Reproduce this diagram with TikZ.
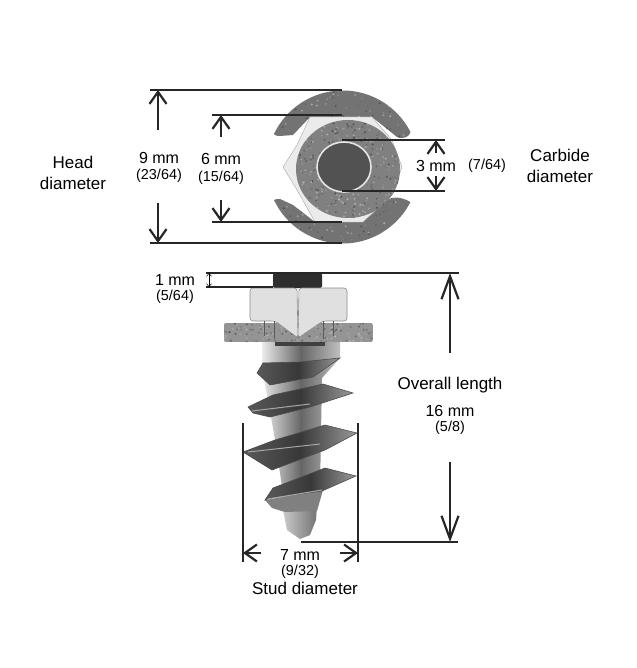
\documentclass[tikz,border=0pt]{standalone}
\usepackage{fontspec}
\setmainfont{Liberation Sans}
\usetikzlibrary{arrows.meta}
\pgfmathsetseed{7}
% grain of the metal: x, y, width, height, number of dots
\newcommand{\metalgrain}[5]{%
  \foreach \i in {1,...,#5} {
    \pgfmathsetmacro{\px}{#1+#3*rnd}
    \pgfmathsetmacro{\py}{#2+#4*rnd}
    \pgfmathsetmacro{\pg}{15+70*rnd}
    \fill[black!\pg,opacity=0.55] (\px,\py) circle[radius=1.1];
  }}
\begin{document}
\begin{tikzpicture}
[x=1pt,y=-1pt,%
  linedecorate/.style={-,line width=1.6pt,draw=black!85},%
  arrowdecorate/.style={-{Straight Barb[length=12pt,width=17pt,line width=2.2pt]},line width=2.4pt,draw=black!85},%
  longdecorate/.style={-{Straight Barb[length=23pt,width=17pt,line width=2.2pt]},line width=2.4pt,draw=black!85},%
  tinydecorate/.style={{Straight Barb[length=3pt,width=5pt]}-{Straight Barb[length=3pt,width=5pt]},line width=0.5pt},%
  threaddecorate/.style={left color=black!65,right color=black!40,middle color=black!78,draw=black!70,line width=0.6pt},%
  streakdecorate/.style={draw=black!35,line width=1pt},%
  facedecorate/.style={fill=black!12,draw=black!45,line width=0.6pt},%
  shaftdecorate/.style={left color=black!8,right color=black!25,middle color=black!60},%
  bigtext/.style={font=\fontsize{17}{20}\selectfont,inner sep=0pt},%
  midtext/.style={font=\fontsize{16}{20}\selectfont,inner sep=0pt},%
  smalltext/.style={font=\fontsize{14.4}{17}\selectfont,inner sep=0pt}]
\useasboundingbox (0,0) rectangle (636,668);
%% top view of the head
\begin{scope}
\clip (275,132) arc[start angle=207,end angle=333,radius=76]
  .. controls (410,136) and (404,140) .. (397,137) -- (372,117) -- (310,117) -- (293,135) -- (280,136) .. controls (274,136) and (273,134) .. cycle
  (275,202) arc[start angle=153,end angle=27,radius=76]
  .. controls (400,196) and (392,197) .. (387,200) -- (363,222) -- (315,222) -- (293,205) -- (280,199) .. controls (274,199) and (273,200) .. cycle;
\fill[black!55] (260,85) rectangle (420,250);
\metalgrain{265}{88}{150}{158}{500}
\end{scope}
\path[fill=black!8,draw=black!35] (283,167) -- (297,145) -- (310,117) -- (372,117) -- (392,140) -- (402,167)
  -- (392,195) -- (363,222) -- (315,222) -- (297,190) -- cycle;
\begin{scope}
\clip (348,169) ellipse[x radius=52,y radius=49];
\fill[black!50] (295,118) rectangle (402,220);
\metalgrain{295}{118}{107}{102}{500}
\end{scope}
\path[draw=black!10,line width=1.6pt,fill=black!68] (344,167) ellipse[x radius=27,y radius=25];
%% side view of the stud
\path[shaftdecorate] (262,340) -- (340,340) -- (340,358) -- (322,378) -- (320,490) -- (284,500) -- (275,440) -- (268,400) -- (262,370) -- cycle;
\fill[black!75] (275,342) rectangle (325,346);
\path[fill=black!82,rounded corners=2pt] (273,288) -- (273,273) -- (322,273) -- (322,288) -- cycle;
\path[threaddecorate] (257,373) -- (263,363) -- (300,362) -- (340,358) -- (313,377) -- (270,385) -- cycle;
\path[threaddecorate] (248,407) -- (273,395) -- (323,384) -- (353,393) -- (310,407) -- (270,417) -- (253,413) -- cycle;
\path[threaddecorate] (243,452) -- (275,440) -- (325,425) -- (357,433) -- (325,450) -- (272,470) -- cycle;
\path[left color=black!20,right color=black!55] (282,505) -- (317,505) -- (316,520) -- (310,535) -- (300,539) -- (287,530) -- cycle;
\path[fill=black!50] (265,500) -- (272,508) -- (285,512) -- (317,511) -- (323,490) -- cycle;
\path[threaddecorate] (265,500) -- (273,488) -- (325,468) -- (356,476) -- (322,491) -- (270,498) -- cycle;
\draw[streakdecorate] (268,499) -- (322,490) (248,452) -- (320,444) (252,411) -- (310,404);
\begin{scope}
\clip[rounded corners=2pt] (224,323) rectangle (373,342);
\fill[black!42] (224,323) rectangle (373,342);
\metalgrain{224}{323}{149}{19}{160}
\end{scope}
\path[facedecorate,rounded corners=3pt] (250,321) -- (250,288) -- (297,288) -- (298,338) -- (275,321) -- cycle;
\path[facedecorate,rounded corners=3pt] (347,321) -- (347,288) -- (299,288) -- (298,338) -- (323,321) -- cycle;
\draw[black!65,line width=1pt] (264,321) -- (264,336) (274,321) -- (274,339) (323,321) -- (323,339) (333,321) -- (333,336);
%% points that the lines run between
\foreach \nodename/\x/\y in {nineTopA/150/90, nineTopB/342/90, nineBotA/150/243, nineBotB/342/243,
  sixTopA/212/115, sixTopB/342/115, sixBotA/212/222, sixBotB/342/222,
  threeTopA/342/140, threeTopB/445/140, threeBotA/342/191, threeBotB/445/191,
  oneTopA/206/273, oneTopB/459/273, oneBotA/206/287, oneBotB/273/287,
  lenBotA/301/542, lenBotB/458/542, studLeftA/243/423, studLeftB/243/562,
  studRightA/358/423, studRightB/358/562,
  nineUp/158/130, nineUpEnd/158/90, nineDown/158/203, nineDownEnd/158/243,
  sixUp/221/137, sixUpEnd/221/115, sixDown/221/200, sixDownEnd/221/222,
  threeUp/436/153, threeUpEnd/436/140, threeDown/436/176, threeDownEnd/436/191,
  lenUp/450/353, lenUpEnd/450/273, lenDown/450/462, lenDownEnd/450/542,
  studIn/261/553, studInEnd/243/553, studOut/340/553, studOutEnd/358/553,
  tinyTop/209/273, tinyBot/209/287} {
  \coordinate (\nodename) at (\x,\y);
}
%% lines
\path
\foreach \startnode/\endnode in {nineTopA/nineTopB, nineBotA/nineBotB, sixTopA/sixTopB, sixBotA/sixBotB,
  threeTopA/threeTopB, threeBotA/threeBotB, oneTopA/oneTopB, oneBotA/oneBotB, lenBotA/lenBotB,
  studLeftA/studLeftB, studRightA/studRightB} {
  (\startnode) edge[linedecorate] (\endnode)
};
%% arrows
\path
\foreach \startnode/\endnode in {nineUp/nineUpEnd, nineDown/nineDownEnd, sixUp/sixUpEnd, sixDown/sixDownEnd,
  threeUp/threeUpEnd, threeDown/threeDownEnd, studIn/studInEnd, studOut/studOutEnd} {
  (\startnode) edge[arrowdecorate] (\endnode)
};
\path
\foreach \startnode/\endnode in {lenUp/lenUpEnd, lenDown/lenDownEnd} {
  (\startnode) edge[longdecorate] (\endnode)
};
\draw[tinydecorate] (tinyTop) -- (tinyBot);
%% labels
\foreach \nodename/\x/\y/\txt in {headA/73/162/Head, headB/73/183/diameter, carbA/560/155/Carbide, carbB/560/176/diameter,
  lenA/450/385/Overall length, studName/305/588/Stud diameter} {
  \node (\nodename) at (\x,\y) [bigtext] {\txt};
}
\foreach \nodename/\x/\y/\txt in {nineMm/159/158/9 mm, sixMm/221/159/6 mm, threeMm/436/166/3 mm, oneMm/175/280/1 mm,
  lenB/450/411/16 mm, sevenMm/300/555/7 mm} {
  \node (\nodename) at (\x,\y) [midtext] {\txt};
}
\foreach \nodename/\x/\y/\txt in {nineFrac/159/176/{(23/64)}, sixFrac/221/178/{(15/64)}, threeFrac/487/166/{(7/64)},
  oneFrac/175/297/{(5/64)}, lenFrac/450/428/{(5/8)}, sevenFrac/300/572/{(9/32)}} {
  \node (\nodename) at (\x,\y) [smalltext] {\txt};
}
\end{tikzpicture}
\end{document}
